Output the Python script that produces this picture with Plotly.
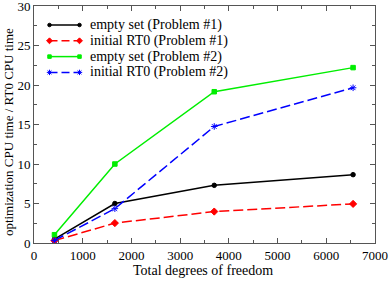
import plotly.graph_objects as go

dof = [420, 1660, 3700, 6550]
empty1 = [0.5, 5.0, 7.3, 8.65]
rt0_1 = [0.3, 2.52, 3.98, 4.95]
empty2 = [1.05, 10.0, 19.15, 22.2]
rt0_2 = [0.33, 4.35, 14.75, 19.65]

names = ["empty set (Problem #1)", "initial RT0 (Problem #1)",
         "empty set (Problem #2)", "initial RT0 (Problem #2)"]
series = [empty1, rt0_1, empty2, rt0_2]
colors = ["black", "red", "#00ee00", "blue"]
dashes = ["solid", "10px,4px", "solid", "10px,4px"]
symbols = ["circle", "diamond", "square", "asterisk-open"]
sizes = [4.5, 5.5, 4.5, 5.5]

font = "Times New Roman, Liberation Serif, serif"

fig = go.Figure()
for vals, nm, c, d, s, sz in zip(series, names, colors, dashes, symbols, sizes):
    fig.add_trace(go.Scatter(x=dof, y=vals, name=nm, mode="lines+markers", showlegend=False,
                             line=dict(color=c, width=1.5, dash=d),
                             marker=dict(symbol=s, size=sz, color=c, line=dict(color=c, width=1))))

# Legend drawn on an overlay axis in screen-pixel units
leg_rows = [25, 40.8, 56.6, 72.4]
for row, nm, c, d, s, sz in zip(leg_rows, names, colors, dashes, symbols, sizes):
    fig.add_trace(go.Scatter(x=[49.5, 79.5], y=[row, row], mode="lines+markers", showlegend=False,
                             xaxis="x2", yaxis="y2", hoverinfo="skip",
                             line=dict(color=c, width=1.5, dash="8px,4px" if d != "solid" else "solid"),
                             marker=dict(symbol=s, size=sz - 1, color=c, line=dict(color=c, width=1))))
    fig.add_annotation(text=nm, x=87.5, y=row, xref="x2", yref="y2", xanchor="left", yanchor="middle",
                       showarrow=False, font=dict(family=font, size=14, color="black"))

axis_common = dict(showline=True, linecolor="#555", linewidth=1, mirror="ticks",
                   ticks="inside", tickcolor="#555", ticklen=5, showgrid=False, zeroline=False,
                   automargin=False, ticklabeloverflow="allow",
                   tickfont=dict(family=font, size=13, color="black"))
fig.update_layout(
    xaxis=dict(range=[0, 7000], dtick=1000, ticklabelstandoff=0,
               minor=dict(ticks="inside", dtick=500, ticklen=3, tickcolor="#555"), **axis_common),
    yaxis=dict(range=[0, 30], dtick=5,
               minor=dict(ticks="inside", dtick=2.5, ticklen=3, tickcolor="#555"), **axis_common),
    xaxis2=dict(overlaying="x", range=[34, 375], visible=False, fixedrange=True),
    yaxis2=dict(overlaying="y", range=[243, 6], visible=False, fixedrange=True),
)
fig.add_annotation(text="Total degrees of freedom", x=0.4956, y=-0.118, xref="paper", yref="paper",
                   xanchor="center", yanchor="middle", showarrow=False,
                   font=dict(family=font, size=14, color="black"))
fig.add_annotation(text="optimization CPU time / RT0 CPU time", x=-0.0762, y=0.468, xref="paper", yref="paper",
                   xanchor="center", yanchor="middle", textangle=-90, showarrow=False,
                   font=dict(family=font, size=13, color="black"))
fig.update_layout(width=390, height=281, margin=dict(l=34, r=15, t=6, b=38),
                  plot_bgcolor="white", paper_bgcolor="white", showlegend=False)
fig.write_html("out.html", config={"displayModeBar": False},
               post_script="document.body.style.margin='0';document.body.style.padding='0';")
